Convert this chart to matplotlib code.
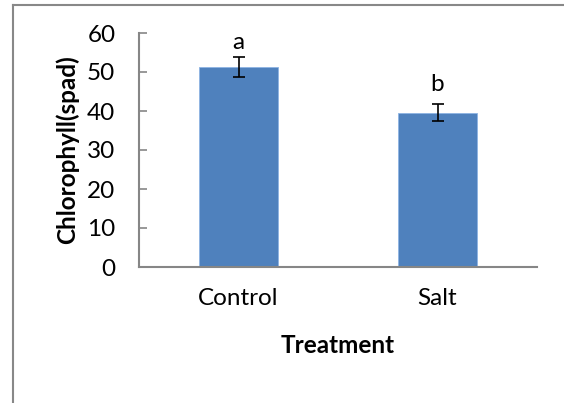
import matplotlib
matplotlib.use("Agg")
import matplotlib.pyplot as plt
from matplotlib.lines import Line2D

# -------------------------
# Data
# -------------------------
treatments = ["Control", "Salt"]
chlorophyll = [51.2, 39.6]
errors = [2.6, 2.1]
letters = ["a", "b"]
letter_y = [57.6, 46.9]

plt.rcParams["font.family"] = ["Lato", "DejaVu Sans"]
fs = 17.5

fig = plt.figure(figsize=(5.64, 4.03), dpi=100)
ax = fig.add_axes([139 / 564, 1 - 267 / 403, 398 / 564, 234 / 403])

x = list(range(len(treatments)))
ax.bar(x, chlorophyll, width=0.4, color="#4F81BD", edgecolor="#8EB4E3", linewidth=0.6, zorder=2)
ax.errorbar(x, chlorophyll, yerr=errors, fmt="none", ecolor="black",
            elinewidth=1.2, capsize=4.5, capthick=1.2, zorder=3)

for xi, lab, ly in zip(x, letters, letter_y):
    ax.text(xi, ly, lab, ha="center", va="center", fontsize=fs)

ax.set_xlim(-0.5, 1.5)
ax.set_ylim(0, 60)
ax.set_yticks(range(0, 61, 10))
ax.set_xticks(x)
ax.set_xticklabels(treatments)

for side in ["top", "right"]:
    ax.spines[side].set_visible(False)
for side in ["left", "bottom"]:
    ax.spines[side].set_color("#868686")
    ax.spines[side].set_linewidth(1.5)

ax.tick_params(axis="y", direction="in", length=6, width=1.2, color="#868686",
               labelsize=fs, pad=17)
ax.tick_params(axis="x", length=0, labelsize=fs, pad=15)

ax.set_xlabel("Treatment", fontsize=fs, fontweight="bold", labelpad=18)
ax.set_ylabel("Chlorophyll(spad)", fontsize=fs, fontweight="bold", labelpad=6)

# outer chart frame (only left and top visible in the crop)
fig.add_artist(Line2D([13 / 564, 13 / 564], [0, 1 - 5 / 403], transform=fig.transFigure,
                      color="#888888", linewidth=1.5))
fig.add_artist(Line2D([13 / 564, 1], [1 - 5 / 403, 1 - 5 / 403], transform=fig.transFigure,
                      color="#888888", linewidth=1.5))

fig.savefig("out.png", dpi=100)
